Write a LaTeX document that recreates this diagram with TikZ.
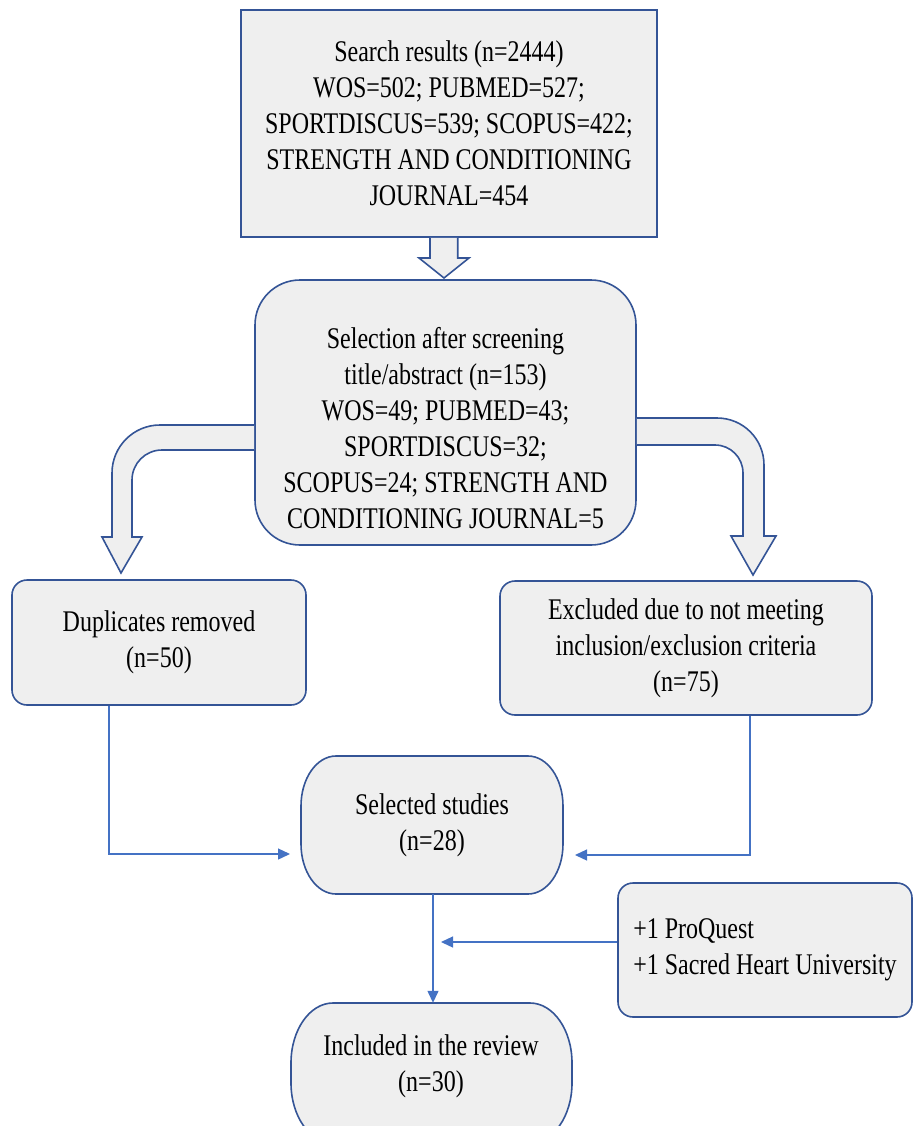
\documentclass[tikz,border=0pt]{standalone}
\usepackage{fontspec}
\setmainfont[FakeStretch=0.8]{Liberation Serif}
\usetikzlibrary{arrows.meta}
\definecolor{boxblue}{RGB}{52,84,150}
\definecolor{lineblue}{RGB}{68,114,196}
\definecolor{boxfill}{RGB}{239,239,239}
\begin{document}
\begin{tikzpicture}[x=1pt,y=-1pt,
  box/.style={draw=boxblue, fill=boxfill, line width=1.6pt, inner sep=0pt,
    font=\fontsize{30pt}{36pt}\selectfont, align=center},
  txt/.style={inner sep=0pt, font=\fontsize{30pt}{36pt}\selectfont, align=center},
  outline/.style={draw=boxblue, fill=boxfill, line width=1.6pt},
  blockarrow/.style={draw=boxblue, fill=boxfill, line width=1.6pt, line join=miter},
  conn/.style={draw=lineblue, line width=1.3pt, -{Triangle[length=12pt,width=11pt]}}]
\useasboundingbox (0,0) rectangle (913,1126);
\clip (0,0) rectangle (913,1126);

% capsule outlines (elliptical corners)
\path[outline] (336,756) -- (528,756) arc[start angle=-90, end angle=0, x radius=35, y radius=50]
  -- (563,844) arc[start angle=0, end angle=90, x radius=35, y radius=50]
  -- (336,894) arc[start angle=90, end angle=180, x radius=35, y radius=50]
  -- (301,806) arc[start angle=180, end angle=270, x radius=35, y radius=50] -- cycle;
\path[outline] (333,1003) -- (530,1003) arc[start angle=-90, end angle=0, x radius=42, y radius=60]
  -- (572,1083) arc[start angle=0, end angle=90, x radius=42, y radius=60]
  -- (333,1143) arc[start angle=90, end angle=180, x radius=42, y radius=60]
  -- (291,1063) arc[start angle=180, end angle=270, x radius=42, y radius=60] -- cycle;

% nodes
\node[box, minimum width=416pt, minimum height=227pt] (search) at (449,123.5)
  {Search results (n=2444)\\WOS=502; PUBMED=527;\\SPORTDISCUS=539; SCOPUS=422;\\STRENGTH AND CONDITIONING\\JOURNAL=454};
\node[box, rounded corners=45pt, minimum width=381pt, minimum height=265pt] (sel) at (445.5,412.5) {};
\node[txt] (selT) at (445.5,428)
  {Selection after screening\\title/abstract (n=153)\\WOS=49; PUBMED=43;\\SPORTDISCUS=32;\\SCOPUS=24; STRENGTH AND\\CONDITIONING JOURNAL=5};
\node[box, rounded corners=15pt, minimum width=294pt, minimum height=125pt] (dup) at (159,642.5)
  {Duplicates removed\\(n=50)};
\node[box, rounded corners=15pt, minimum width=372pt, minimum height=134pt] (exc) at (686,648)
  {Excluded due to not meeting\\inclusion/exclusion criteria\\(n=75)};
\node[txt, minimum width=262pt, minimum height=138pt] (selst) at (432,825)
  {Selected studies\\(n=28)};
\node[box, rounded corners=15pt, minimum width=294pt, minimum height=134pt, align=left] (pq) at (765,950)
  {+1 ProQuest\\+1 Sacred Heart University};
\node[txt, minimum width=281pt, minimum height=126pt] (inc) at (431,1066)
  {Included in the review\\(n=30)};

% block arrows
\path[blockarrow] (search.south -| 430,0) -- (430,258) -- (419,258) -- (444,278)
  -- (469,258) -- (457.7,258) -- (search.south -| 457.7,0);
\path[blockarrow] (sel.west |- 0,425) -- (160,425)
  .. controls (133.5,425) and (112,446.5) .. (112,473)
  -- (112,537) -- (102,537) -- (121,573) -- (142,537) -- (132,537) -- (132,480)
  .. controls (132,463.4) and (145.4,450) .. (162,450)
  -- (sel.west |- 0,450);
\path[blockarrow] (sel.east |- 0,418) -- (717,418)
  .. controls (743,418) and (764,439) .. (764,465)
  -- (764,536) -- (776,536) -- (753,575) -- (731,536) -- (743,536) -- (743,473)
  .. controls (743,457.5) and (730.5,445) .. (715,445)
  -- (sel.east |- 0,445);

% connectors
\coordinate (tipL) at (290,854);
\coordinate (tipR) at (575,855);
\coordinate (tipP) at (441,942);
\draw[conn] (dup.south -| 109,0) |- (tipL);
\draw[conn] (exc.south -| 750,0) |- (tipR);
\draw[conn] (selst.south -| 433,0) -- (inc.north -| 433,0);
\draw[conn] (pq.west |- 0,942) -- (tipP);
\end{tikzpicture}
\end{document}
